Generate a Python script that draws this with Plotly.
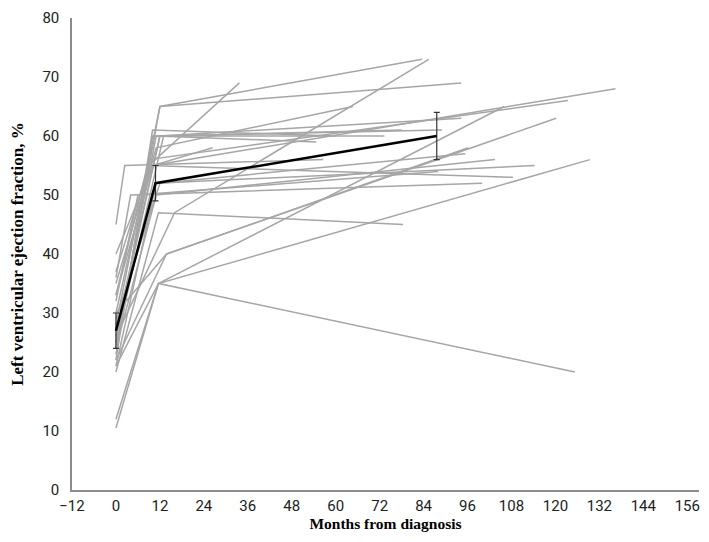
import plotly.graph_objects as go

# individual patients: baseline, first follow-up, last follow-up
baseline_month = [0] * 27
baseline_lvef = [24, 28, 26, 30, 33, 35, 27, 25, 23, 26, 45, 22, 29, 24, 37, 21, 20, 12, 10.5, 21, 30, 40, 33, 36, 32, 22, 25]
followup_month = [12, 12, 16, 9, 10, 11, 12, 11, 10, 12, 2.4, 13.8, 12, 11, 9, 11, 11.6, 11.6, 11.6, 11.6, 13.8, 10, 9, 4, 6, 10, 13]
followup_lvef = [65, 65, 47, 55, 55, 58, 60, 60, 60, 60, 55, 40, 52, 50, 55, 52, 47, 35, 35, 35, 40, 55, 56, 50, 50, 61, 60]
last_month = [83.6, 94.3, 85.4, 33.7, 26.4, 64.7, 73.3, 54.7, 89, 94.3, 56.6, 96.2, 95.4, 103.5, 108.4, 114.3, 78.4, 125.3, 129.4, 106, 120.2, 136.4, 123.4, 100, 88, 60, 78]
last_lvef = [73, 69, 73, 69, 58, 65, 60, 59, 61, 63, 56, 58, 57, 56, 53, 55, 45, 20, 56, 65, 63, 68, 66, 52, 54, 60, 61]

# group mean with error bars
mean_month = [0, 10.8, 87.6]
mean_lvef = [27, 52, 60]
mean_err = [3, 3, 4]

x_ticks = list(range(-12, 157, 12))
y_ticks = list(range(0, 81, 10))

fig = go.Figure()

for i in range(len(baseline_lvef)):
    fig.add_trace(go.Scatter(
        x=[baseline_month[i], followup_month[i], last_month[i]],
        y=[baseline_lvef[i], followup_lvef[i], last_lvef[i]],
        mode="lines", line=dict(color="#a6a6a6", width=1.5),
        showlegend=False, hoverinfo="skip"))

fig.add_trace(go.Scatter(
    x=mean_month, y=mean_lvef, mode="lines",
    line=dict(color="black", width=2.5),
    error_y=dict(type="data", array=mean_err, visible=True,
                 color="#333333", thickness=1.2, width=3),
    showlegend=False))

tick_font = dict(family="Liberation Sans Narrow, Roboto, sans-serif", size=15, color="#222222")

# the page body keeps its 8px margin, so size the figure to fit inside the window
fig.update_layout(
    width=693, height=526,
    margin=dict(l=64, r=2, t=10, b=44),
    paper_bgcolor="white", plot_bgcolor="white",
    xaxis=dict(range=[-12, 159.2], tickvals=x_ticks, ticks="",
               showgrid=False, zeroline=False,
               showline=True, linecolor="#8c8c8c", linewidth=1.5,
               tickfont=tick_font, ticklabelstandoff=1,
               title=dict(text="<b>Months from diagnosis</b>",
                          font=dict(family="Liberation Serif, serif", size=15.5, color="black"),
                          standoff=3)),
    yaxis=dict(range=[0, 80], tickvals=y_ticks, ticks="",
               showgrid=False, zeroline=False,
               showline=True, linecolor="#8c8c8c", linewidth=1.5,
               tickfont=tick_font, ticklabelstandoff=8,
               ticklabeloverflow="allow",
               title=dict(text="<b>Left ventricular ejection fraction, %</b>",
                          font=dict(family="Liberation Serif, serif", size=17, color="black"),
                          standoff=18)),
)

fig.write_html("out.html")
